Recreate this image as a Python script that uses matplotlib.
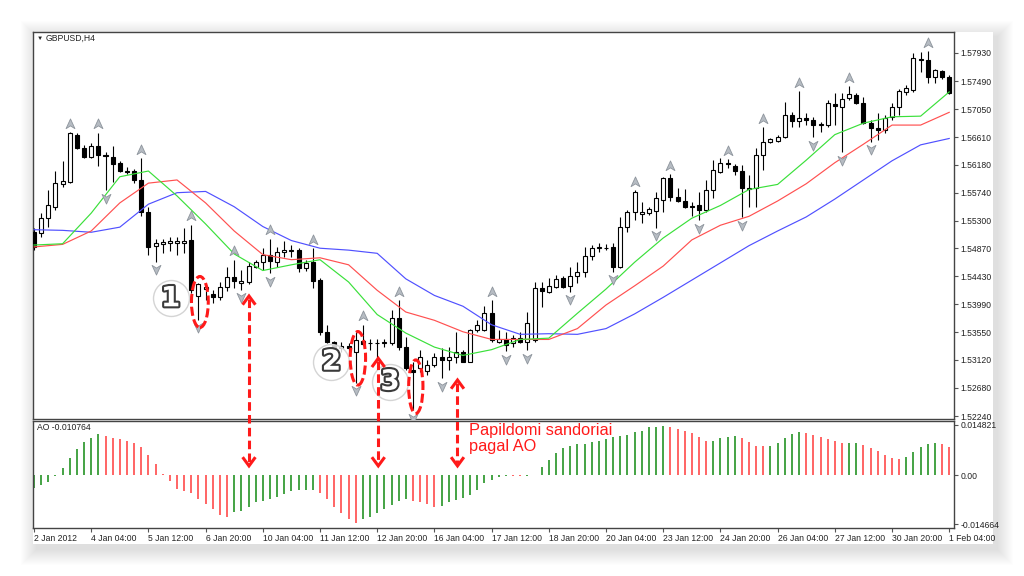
import numpy as np
import matplotlib
matplotlib.use("Agg")
import matplotlib.pyplot as plt
import matplotlib.patheffects as pe
from matplotlib.lines import Line2D
from matplotlib.patches import Ellipse, Rectangle
from matplotlib.path import Path

plt.rcParams["font.family"] = ["Liberation Sans", "DejaVu Sans"]

# GBPUSD H4 candles, one value per bar (bar 0 = 2 Jan 2012)
OPEN = [
    1.5512, 1.5511, 1.5534, 1.5552, 1.5588, 1.5591, 1.5664, 1.5644, 1.5630, 1.5647,
    1.5633, 1.5630, 1.5621, 1.5608, 1.5608, 1.5594, 1.5544, 1.5491, 1.5494, 1.5495,
    1.5495, 1.5495, 1.5500, 1.5412, 1.5423, 1.5416, 1.5411, 1.5426, 1.5442, 1.5433,
    1.5434, 1.5458, 1.5466, 1.5477, 1.5466, 1.5481, 1.5483, 1.5484, 1.5456, 1.5466,
    1.5437, 1.5356, 1.5340, 1.5330, 1.5334, 1.5324, 1.5342, 1.5338, 1.5338, 1.5339,
    1.5339, 1.5377, 1.5332, 1.5296, 1.5299, 1.5294, 1.5304, 1.5316, 1.5312, 1.5316,
    1.5324, 1.5309, 1.5359, 1.5359, 1.5385, 1.5340, 1.5345, 1.5339, 1.5347, 1.5340,
    1.5343, 1.5425, 1.5419, 1.5426, 1.5440, 1.5428, 1.5443, 1.5450, 1.5475, 1.5488,
    1.5488, 1.5489, 1.5458, 1.5520, 1.5544, 1.5541, 1.5542, 1.5545, 1.5563, 1.5597,
    1.5567, 1.5561, 1.5553, 1.5555, 1.5547, 1.5578, 1.5606, 1.5620, 1.5616, 1.5608,
    1.5580, 1.5581, 1.5633, 1.5654, 1.5655, 1.5661, 1.5696, 1.5686, 1.5691, 1.5688,
    1.5680, 1.5680, 1.5713, 1.5708, 1.5722, 1.5727, 1.5715, 1.5683, 1.5675, 1.5672,
    1.5693, 1.5708, 1.5732, 1.5735, 1.5784, 1.5782, 1.5755, 1.5765, 1.5755,
]
HIGH = [
    1.5519, 1.5542, 1.5578, 1.5608, 1.5624, 1.5669, 1.5668, 1.5649, 1.5652, 1.5668,
    1.5638, 1.5647, 1.5624, 1.5615, 1.5611, 1.5628, 1.5552, 1.5502, 1.5502, 1.5505,
    1.5505, 1.5519, 1.5524, 1.5433, 1.5430, 1.5422, 1.5434, 1.5458, 1.5469, 1.5453,
    1.5466, 1.5469, 1.5487, 1.5502, 1.5489, 1.5498, 1.5492, 1.5487, 1.5469, 1.5487,
    1.5440, 1.5366, 1.5342, 1.5340, 1.5339, 1.5355, 1.5367, 1.5345, 1.5345, 1.5345,
    1.5390, 1.5406, 1.5348, 1.5309, 1.5327, 1.5312, 1.5322, 1.5331, 1.5332, 1.5355,
    1.5327, 1.5360, 1.5375, 1.5396, 1.5406, 1.5359, 1.5355, 1.5351, 1.5355, 1.5387,
    1.5434, 1.5434, 1.5440, 1.5445, 1.5443, 1.5458, 1.5466, 1.5489, 1.5492, 1.5495,
    1.5494, 1.5495, 1.5536, 1.5547, 1.5578, 1.5559, 1.5552, 1.5575, 1.5599, 1.5603,
    1.5581, 1.5580, 1.5559, 1.5575, 1.5594, 1.5625, 1.5628, 1.5627, 1.5619, 1.5618,
    1.5602, 1.5644, 1.5677, 1.5660, 1.5664, 1.5716, 1.5701, 1.5733, 1.5699, 1.5693,
    1.5685, 1.5719, 1.5730, 1.5730, 1.5741, 1.5730, 1.5724, 1.5688, 1.5699, 1.5696,
    1.5715, 1.5737, 1.5743, 1.5793, 1.5795, 1.5796, 1.5768, 1.5766, 1.5759,
]
LOW = [
    1.5484, 1.5505, 1.5520, 1.5547, 1.5583, 1.5589, 1.5643, 1.5628, 1.5628, 1.5616,
    1.5578, 1.5591, 1.5606, 1.5603, 1.5589, 1.5538, 1.5477, 1.5466, 1.5480, 1.5483,
    1.5477, 1.5480, 1.5417, 1.5375, 1.5406, 1.5401, 1.5406, 1.5420, 1.5425, 1.5422,
    1.5431, 1.5456, 1.5453, 1.5448, 1.5458, 1.5473, 1.5473, 1.5450, 1.5451, 1.5425,
    1.5351, 1.5339, 1.5320, 1.5324, 1.5326, 1.5276, 1.5336, 1.5327, 1.5315, 1.5332,
    1.5336, 1.5327, 1.5296, 1.5233, 1.5293, 1.5288, 1.5301, 1.5283, 1.5296, 1.5307,
    1.5309, 1.5309, 1.5356, 1.5357, 1.5340, 1.5339, 1.5326, 1.5332, 1.5339, 1.5327,
    1.5340, 1.5395, 1.5417, 1.5425, 1.5425, 1.5419, 1.5433, 1.5442, 1.5469, 1.5481,
    1.5484, 1.5450, 1.5456, 1.5512, 1.5531, 1.5527, 1.5539, 1.5519, 1.5544, 1.5561,
    1.5559, 1.5550, 1.5538, 1.5531, 1.5544, 1.5566, 1.5605, 1.5613, 1.5602, 1.5536,
    1.5552, 1.5552, 1.5610, 1.5652, 1.5654, 1.5660, 1.5677, 1.5677, 1.5680, 1.5661,
    1.5669, 1.5677, 1.5680, 1.5638, 1.5719, 1.5713, 1.5681, 1.5654, 1.5657, 1.5668,
    1.5688, 1.5696, 1.5727, 1.5732, 1.5763, 1.5746, 1.5746, 1.5753, 1.5729,
]
CLOSE = [
    1.5489, 1.5534, 1.5555, 1.5589, 1.5592, 1.5668, 1.5644, 1.5630, 1.5647, 1.5633,
    1.5631, 1.5619, 1.5608, 1.5606, 1.5594, 1.5544, 1.5489, 1.5495, 1.5497, 1.5498,
    1.5498, 1.5498, 1.5422, 1.5431, 1.5426, 1.5411, 1.5426, 1.5442, 1.5436, 1.5436,
    1.5459, 1.5466, 1.5477, 1.5467, 1.5481, 1.5484, 1.5484, 1.5456, 1.5464, 1.5436,
    1.5356, 1.5340, 1.5330, 1.5334, 1.5331, 1.5343, 1.5337, 1.5339, 1.5339, 1.5340,
    1.5377, 1.5332, 1.5299, 1.5293, 1.5316, 1.5304, 1.5316, 1.5312, 1.5316, 1.5324,
    1.5309, 1.5359, 1.5367, 1.5385, 1.5343, 1.5345, 1.5336, 1.5347, 1.5340, 1.5370,
    1.5425, 1.5420, 1.5428, 1.5438, 1.5426, 1.5443, 1.5450, 1.5475, 1.5487, 1.5489,
    1.5487, 1.5458, 1.5520, 1.5544, 1.5575, 1.5544, 1.5549, 1.5566, 1.5597, 1.5567,
    1.5561, 1.5552, 1.5552, 1.5547, 1.5578, 1.5610, 1.5621, 1.5619, 1.5608, 1.5581,
    1.5582, 1.5633, 1.5654, 1.5658, 1.5661, 1.5696, 1.5686, 1.5691, 1.5688, 1.5680,
    1.5681, 1.5715, 1.5710, 1.5721, 1.5729, 1.5715, 1.5683, 1.5675, 1.5672, 1.5691,
    1.5708, 1.5733, 1.5738, 1.5785, 1.5782, 1.5755, 1.5766, 1.5755, 1.5730,
]

# Alligator lines, read every 4 bars
LINE_STEP = 4
JAW = [
    1.5516, 1.5515, 1.5512, 1.5520, 1.5556, 1.5574, 1.5576, 1.5552, 1.5521, 1.5499,
    1.5487, 1.5484, 1.5479, 1.5439, 1.5413, 1.5396, 1.5367, 1.5352, 1.5353, 1.5352,
    1.5361, 1.5384, 1.5410, 1.5437, 1.5464, 1.5491, 1.5514, 1.5536, 1.5564, 1.5594,
    1.5624, 1.5649, 1.5659,
]
TEETH = [
    1.5489, 1.5493, 1.5514, 1.5558, 1.5589, 1.5594, 1.5558, 1.5514, 1.5477, 1.5469,
    1.5472, 1.5461, 1.5421, 1.5387, 1.5374, 1.5356, 1.5344, 1.5344, 1.5344, 1.5361,
    1.5398, 1.5428, 1.5459, 1.5500, 1.5523, 1.5537, 1.5561, 1.5588, 1.5621, 1.5650,
    1.5680, 1.5680, 1.5700,
]
LIPS = [
    1.5492, 1.5494, 1.5542, 1.5599, 1.5608, 1.5569, 1.5525, 1.5478, 1.5452, 1.5461,
    1.5469, 1.5434, 1.5383, 1.5354, 1.5332, 1.5319, 1.5328, 1.5344, 1.5346, 1.5385,
    1.5423, 1.5465, 1.5503, 1.5534, 1.5554, 1.5579, 1.5587, 1.5625, 1.5665, 1.5683,
    1.5693, 1.5694, 1.5732,
]

# Awesome Oscillator, one value per bar
AO = [
    -0.0039, -0.0030, -0.0020, -0.0003, 0.0020, 0.0049, 0.0076, 0.0097, 0.0111, 0.0121,
    0.0117, 0.0109, 0.0106, 0.0102, 0.0094, 0.0084, 0.0059, 0.0032, 0.0003, -0.0018,
    -0.0042, -0.0046, -0.0052, -0.0071, -0.0086, -0.0102, -0.0119, -0.0124, -0.0111, -0.0106,
    -0.0096, -0.0079, -0.0076, -0.0070, -0.0064, -0.0055, -0.0046, -0.0045, -0.0044, -0.0043,
    -0.0052, -0.0072, -0.0096, -0.0112, -0.0131, -0.0143, -0.0131, -0.0124, -0.0114, -0.0101,
    -0.0090, -0.0077, -0.0071, -0.0077, -0.0079, -0.0086, -0.0094, -0.0092, -0.0079, -0.0074,
    -0.0069, -0.0058, -0.0043, -0.0025, -0.0015, -0.0005, -0.0002, -0.0003, -0.0004, -0.0002,
    0.0001, 0.0025, 0.0044, 0.0064, 0.0079, 0.0087, 0.0091, 0.0093, 0.0097, 0.0102,
    0.0107, 0.0114, 0.0115, 0.0119, 0.0126, 0.0131, 0.0141, 0.0143, 0.0145, 0.0143,
    0.0136, 0.0131, 0.0125, 0.0114, 0.0101, 0.0102, 0.0109, 0.0114, 0.0116, 0.0109,
    0.0099, 0.0087, 0.0085, 0.0086, 0.0096, 0.0111, 0.0123, 0.0127, 0.0124, 0.0120,
    0.0113, 0.0106, 0.0100, 0.0094, 0.0095, 0.0096, 0.0090, 0.0081, 0.0072, 0.0059,
    0.0049, 0.0046, 0.0054, 0.0067, 0.0082, 0.0093, 0.0094, 0.0093, 0.0082,
]

UP_FRACTALS = [5, 9, 15, 22, 28, 33, 39, 46, 51, 64, 84, 89, 97, 102, 107, 114, 125]
DOWN_FRACTALS = [10, 17, 23, 29, 33, 45, 53, 57, 66, 69, 75, 81, 87, 93, 99, 109, 113, 117]

TIME_LABELS = [
    "2 Jan 2012", "4 Jan 04:00", "5 Jan 12:00", "6 Jan 20:00", "10 Jan 04:00",
    "11 Jan 12:00", "12 Jan 20:00", "16 Jan 04:00", "17 Jan 12:00", "18 Jan 20:00",
    "20 Jan 04:00", "23 Jan 12:00", "24 Jan 20:00", "26 Jan 04:00", "27 Jan 12:00",
    "30 Jan 20:00", "1 Feb 04:00",
]
PRICE_TICKS = [1.57930, 1.57490, 1.57050, 1.56610, 1.56180, 1.55740, 1.55300,
               1.54870, 1.54430, 1.53990, 1.53550, 1.53120, 1.52680, 1.52240]
AO_TICKS = [0.014821, 0.0, -0.014664]
AO_TICK_LABELS = ["0.014821", "0.00", "-0.014664"]

# annotations: (bar, price) for the numbered circles and the dashed ellipses
CIRCLES = [("1", 19.1, 1.54085), ("2", 41.6, 1.53091), ("3", 49.8, 1.52778)]
ELLIPSES = [(23.2, 1.54027, 2.35, 0.0080), (45.3, 1.53144, 2.15, 0.0084), (53.4, 1.52699, 2.0, 0.0084)]
ARROWS = [(30.07, 1.54121), (48.15, 1.53144), (59.23, 1.52804)]
ARROW_AO_END = 0.0027

W, H = 1024, 576
RED = "#ff1a1a"


def fx(x):
    return x / W


def fy(y):
    return 1 - y / H


fig = plt.figure(figsize=(W / 100, H / 100), dpi=100)
fig.patch.set_facecolor("white")

# card with soft drop shadow (stronger towards the bottom right)
cx0, cy0, cx1, cy1 = 33, 32, 993, 544
for k in range(16, 0, -1):
    fig.add_artist(Rectangle((fx(cx0 - k + 4), fy(cy1 + k + 5)),
                             (cx1 - cx0 + 2 * k) / W, (cy1 - cy0 + 2 * k) / H,
                             transform=fig.transFigure, facecolor="black",
                             alpha=0.007, edgecolor="none", zorder=-3))
fig.add_artist(Rectangle((fx(cx0), fy(cy1)), (cx1 - cx0) / W, (cy1 - cy0) / H,
                         transform=fig.transFigure, facecolor="white",
                         edgecolor="none", zorder=-2))

ax = fig.add_axes([fx(33), fy(419), (954 - 33) / W, (419 - 32) / H])
ao = fig.add_axes([fx(33), fy(528), (954 - 33) / W, (528 - 421) / H])

bars = np.arange(len(CLOSE))
o, hi, lo, c = (np.array(v) for v in (OPEN, HIGH, LOW, CLOSE))

# candles
ax.vlines(bars, lo, hi, color="black", lw=0.8, zorder=3)
body_w = 0.56
for i in bars:
    face = "white" if c[i] >= o[i] else "black"
    ax.add_patch(Rectangle((i - body_w / 2, min(o[i], c[i])), body_w, abs(c[i] - o[i]),
                           facecolor=face, edgecolor="black", lw=0.8, zorder=4))

# alligator
lx = np.arange(len(JAW)) * LINE_STEP
ax.plot(lx, JAW, color="#5050ff", lw=0.85, zorder=5)
ax.plot(lx, TEETH, color="#ff5050", lw=0.85, zorder=5)
ax.plot(lx, LIPS, color="#3ae03a", lw=0.85, zorder=5)

# fractals
up_marker = Path([(0, 1), (0.8, -0.75), (0, -0.25), (-0.8, -0.75), (0, 1)],
                 [Path.MOVETO, Path.LINETO, Path.LINETO, Path.LINETO, Path.CLOSEPOLY])
down_marker = Path([(0, -1), (0.8, 0.75), (0, 0.25), (-0.8, 0.75), (0, -1)],
                   [Path.MOVETO, Path.LINETO, Path.LINETO, Path.LINETO, Path.CLOSEPOLY])
ax.plot(UP_FRACTALS, hi[UP_FRACTALS] + 0.0013, ls="none", marker=up_marker, ms=8,
        mfc="#b6bcc3", mec="#8d949c", mew=0.6, zorder=6)
ax.plot(DOWN_FRACTALS, lo[DOWN_FRACTALS] - 0.0012, ls="none", marker=down_marker, ms=8,
        mfc="#b6bcc3", mec="#8d949c", mew=0.6, zorder=6)

# AO histogram, green when rising, red when falling
ao_vals = np.array(AO)
rising = np.r_[True, ao_vals[1:] > ao_vals[:-1]]
ao.vlines(bars, 0, ao_vals, colors=np.where(rising, "#44a344", "#ff6464"), lw=1.4)

for a in (ax, ao):
    a.set_xlim(-0.14, 128.67)
    for s in a.spines.values():
        s.set_color("#444444")
        s.set_linewidth(1.0)
    a.yaxis.tick_right()
    a.tick_params(axis="y", direction="out", length=3, width=0.8, color="#555555",
                  labelsize=6.2, labelcolor="#222222", pad=1.5)

ax.set_ylim(1.52193, 1.58259)
ax.set_yticks(PRICE_TICKS)
ax.set_yticklabels([f"{p:.5f}" for p in PRICE_TICKS])
ax.set_xticks([])

ao.set_ylim(-0.015708, 0.016005)
ao.set_yticks(AO_TICKS)
ao.set_yticklabels(AO_TICK_LABELS)
ao.set_xticks(np.arange(0, len(CLOSE), 8))
ao.set_xticklabels(TIME_LABELS, ha="left")
ao.tick_params(axis="x", direction="out", length=3, width=0.8, color="#555555",
               labelsize=6.2, labelcolor="#222222", pad=1.5)

# numbered circles
for label, bx, price in CIRCLES:
    ax.scatter([bx], [price], s=670, facecolor=(1, 1, 1, 0.8), edgecolor="#d4d4d4",
               lw=1.0, zorder=7)
    ax.text(bx, price, label, ha="center", va="center", fontsize=20, fontweight="bold",
            family="DejaVu Sans", color="white", zorder=8,
            path_effects=[pe.withStroke(linewidth=3, foreground="#3a3a3a")])

# dashed red ellipses around the signal candles
for bx, price, w, h in ELLIPSES:
    ax.add_patch(Ellipse((bx, price), w, h, fill=False, edgecolor=RED, lw=2.2,
                         linestyle=(0, (3.0, 1.2)), zorder=9))

# dashed double arrows linking price and AO
for bx, top in ARROWS:
    x1, y1 = ax.transData.transform((bx, top))
    x2, y2 = ao.transData.transform((bx, ARROW_AO_END))
    fig.add_artist(Line2D([x1 / W, x2 / W], [(y1 - 3) / H, (y2 + 3) / H],
                          transform=fig.transFigure, color=RED, lw=2.2,
                          linestyle=(0, (2.8, 1.4)), zorder=10))
    for tip_y, d in ((y1, -1), (y2, 1)):
        fig.add_artist(Line2D([(x1 - 5.5) / W, x1 / W, (x1 + 5.5) / W],
                              [(tip_y + d * 7.5) / H, tip_y / H, (tip_y + d * 7.5) / H],
                              transform=fig.transFigure, color=RED, lw=2.2,
                              solid_joinstyle="miter", zorder=10))

fig.text(fx(469), fy(423.5), "Papildomi sandoriai\npagal AO", color=RED, fontsize=11.8,
         ha="left", va="top", linespacing=1.05, zorder=10)

fig.text(fx(36.5), fy(38), "\u25bc", fontsize=4.5, ha="left", va="center", color="#222222")
fig.text(fx(46), fy(38), "GBPUSD,H4", fontsize=6.2, ha="left", va="center", color="#222222")
fig.text(fx(37), fy(427), "AO -0.010764", fontsize=6.2, ha="left", va="center", color="#222222")

fig.savefig("out.png", dpi=100)
